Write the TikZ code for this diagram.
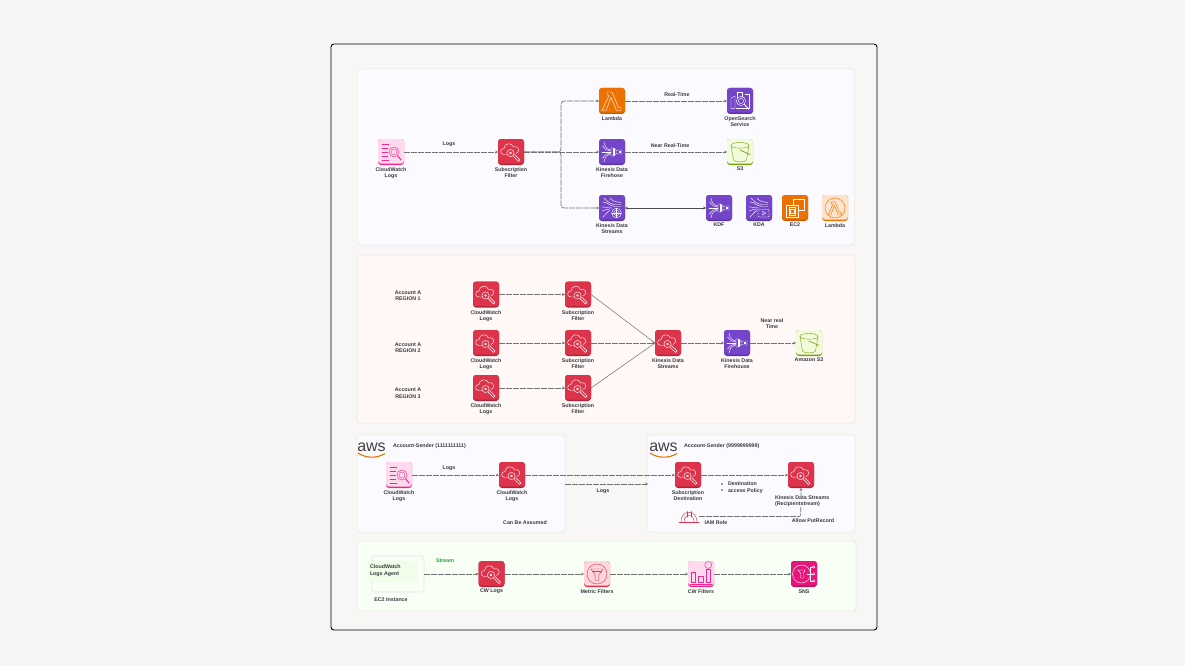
\documentclass[tikz,border=0pt]{standalone}
\usepackage{fontspec}
\setmainfont{Liberation Sans}
\usetikzlibrary{arrows.meta}
\definecolor{pagebg}{HTML}{F6F6F6}
\definecolor{canvas}{HTML}{F8F7F5}
\definecolor{pA}{HTML}{FBFBFF}
\definecolor{pB}{HTML}{FFF8F6}
\definecolor{pC}{HTML}{FBFAFF}
\definecolor{pD}{HTML}{F8FFF5}
\definecolor{pE}{HTML}{F0FDE8}
\definecolor{pline}{HTML}{E5E5EA}
\definecolor{red1}{HTML}{DD344C}
\definecolor{red2}{HTML}{B5233A}
\definecolor{pur1}{HTML}{7545C9}
\definecolor{pur2}{HTML}{5A32A8}
\definecolor{org1}{HTML}{ED7100}
\definecolor{org2}{HTML}{C25C00}
\definecolor{sns1}{HTML}{E7157B}
\definecolor{sns2}{HTML}{B80F60}
\definecolor{pnk1}{HTML}{FFD9EE}
\definecolor{pnk2}{HTML}{F0288C}
\definecolor{grn1}{HTML}{F2FBDC}
\definecolor{grn2}{HTML}{7AA116}
\definecolor{lor1}{HTML}{FDE3CC}
\definecolor{lrd1}{HTML}{FFD6DC}
\definecolor{txt}{HTML}{3A3A40}
\definecolor{strm}{HTML}{2F9A3C}
\tikzset{
  x=1pt,y=-1pt,
  >={Stealth[length=2.8pt,width=2.8pt]},
  panel/.style={draw=pline,line width=.5pt,rounded corners=3pt},
  iconbase/.style={rectangle,rounded corners=3pt,minimum size=26pt,inner sep=0pt,outer sep=0pt},
  glyph/.style={line width=.42pt,line join=round,line cap=round},
  conn/.style={draw=black!55,line width=.7pt,dash pattern=on 6pt off 1pt,->},
  solidconn/.style={draw=black!50,line width=.6pt},
  lbl/.style={inner sep=0pt,outer sep=0pt,align=center,text=txt,yshift=-.7pt,font=\fontsize{5.3}{6.2}\selectfont\bfseries},
}
% glyphs, drawn about the icon centre
\newcommand\gCloud{%
  \draw (-3.5,2.5) -- (-7,2.5) .. controls (-11.5,2.5) and (-11.5,-3.5) .. (-7,-3.5) .. controls (-7,-9) and (1,-10) .. (2.5,-5) .. controls (6,-6.5) and (9,-3) .. (7,0) -- (5,1.5);
  \draw (-.5,1) circle (3.6);
  \draw (-.5,1) circle (1);
  \draw (2,4) -- (7.5,9.5) -- (9,8) -- (3.5,2.5);}
\newcommand\gLog{%
  \draw (-9,-8) -- (-2,-8) (-9,-4) -- (-3,-4) (-9,0) -- (-3,0) (-9,4) -- (-3,4) (-9,8) -- (-2,8);
  \draw (3,0) circle (5);
  \draw[dash pattern=on 1pt off .6pt] (3,0) circle (3);
  \draw[line width=1pt] (6.5,3.5) -- (10,8);}
\newcommand\gLambda{%
  \draw (-5,-9) -- (0,-9) -- (6.5,6.5) -- (9,6.5) -- (9,9.5) -- (4.5,9.5) -- (-1,-3.5) -- (-6,9.5) -- (-10,9.5) -- (-3,-5.5) -- (-4.5,-6) -- (-5,-6) -- cycle;}
\newcommand\gLambdaRing{%
  \draw (0,0) circle (10);
  \begin{scope}[scale=.68]\gLambda\end{scope}}
\newcommand\gFire{%
  \draw (-8,-10) .. controls (-7,-4) and (-5,-3) .. (-1,-2);
  \draw (-9.5,-6) .. controls (-8,-3) and (-5,-1.5) .. (-1,-1);
  \draw (-10,0) -- (-1,0);
  \draw (-9.5,6) .. controls (-8,3) and (-5,1.5) .. (-1,1);
  \draw (-8,10) .. controls (-7,4) and (-5,3) .. (-1,2);
  \draw (-1,-4) -- (1,-4) -- (4,-2.5) -- (4,2.5) -- (1,4) -- (-1,4) -- cycle;
  \draw (1,-4) -- (1,4) (2.5,-3.2) -- (2.5,3.2);
  \draw (4,-1) -- (6,-2) -- (10,-2) -- (10,2) -- (6,2) -- (4,1);
  \fill[white] (7,-.8) rectangle (9,.8);}
\newcommand\gWaves{%
  \draw (-9,-6) .. controls (-4,-6) and (-3,-2) .. (3,-1.5) -- (9,-1.5);
  \draw (-8,-10) .. controls (-4,-6) and (-2,-4) .. (3,-3.5) -- (9,-3.5);
  \draw (-2,-10) .. controls (-1,-8) and (2,-6) .. (9,-5.5);
  \draw (-10,-1) .. controls (-6,-1) and (-4,0) .. (0,0);
  \draw (-10,3) .. controls (-7,2) and (-5,1) .. (-2,1);
  \draw (-9,9) .. controls (-6,6) and (-4,3) .. (-2,2.5);}
\newcommand\gKDS{%
  \gWaves
  \draw (4.5,5) circle (4.8);
  \draw (4.5,5) circle (2.6);
  \draw (-.3,5) -- (9.3,5) (4.5,.2) -- (4.5,9.8);}
\newcommand\gKDA{%
  \gWaves
  \draw[rounded corners=.8pt] (-1,1.5) rectangle (10,9);
  \draw (3.5,3.3) -- (6.8,5.2) -- (3.5,7.1) -- cycle;}
\newcommand\gEC{%
  \draw (-2,-3) -- (-2,-9) -- (9,-9) -- (9,2.5) -- (3,2.5);
  \draw (-9,-3) rectangle (3,9);
  \draw (-4.5,1) rectangle (-.5,5);
  \draw (-5.5,-1) rectangle (.5,7);}
\newcommand\gBucket{%
  \draw (-9,-6.5) .. controls (-9,-10.5) and (9,-10.5) .. (9,-6.5) .. controls (9,-3) and (-9,-3) .. (-9,-6.5);
  \draw (-9,-6.5) -- (-6.5,8) .. controls (-6,10.5) and (6,10.5) .. (6.5,8) -- (9,-6.5);
  \draw[line width=.7pt] (0,-2) -- (10,2.5);}
\newcommand\gSearch{%
  \draw (-9,-3) -- (-5,-5) -- (-5,7) -- (-9,8) -- cycle;
  \draw (-3,-9) -- (2,-9) -- (2,-4) (-3,-9) -- (-3,-3);
  \draw (5,-7) -- (9,-7) -- (9,7) -- (-4,7);
  \draw (1,0) circle (4.6);
  \draw (1,0) circle (2.6);
  \draw[line width=.9pt] (4.5,3.5) -- (8.5,8);}
\newcommand\gFunnel{%
  \draw (0,0) circle (10);
  \draw (-6,-5) -- (6,-5) -- (1.8,1) -- (1.8,6.5) -- (-1.8,6.5) -- (-1.8,1) -- cycle;
  \draw (-4.5,-3) -- (4.5,-3);}
\newcommand\gBars{%
  \draw (-10,-2) rectangle (-5.5,8);
  \draw (-2.5,2) rectangle (2,8);
  \draw (5,-5) rectangle (9.5,8);
  \draw (7.2,-9) circle (3.5);
  \draw (-11,10) -- (11,10);}
\newcommand\gSNS{%
  \draw (-2.5,0) circle (9);
  \draw (-6,-4) -- (1,-4) -- (-.5,-1) -- (-.5,4) -- (-3.5,4) -- (-3.5,-1) -- cycle;
  \draw (6.5,0) -- (3,0) (6.5,0) -- (6.5,-7) -- (8.5,-7) (6.5,0) -- (6.5,7) -- (8.5,7) (6.5,0) -- (8.5,0);
  \draw (9.5,-7) circle (1.2) (9.5,0) circle (1.2) (9.5,7) circle (1.2);}
% name, x, y, fill, dark band, stroke, glyph
\newcommand\icon[7]{%
  \node[iconbase,fill=#5] (#1) at (#2,#3) {};
  \begin{scope}[shift={(#2,#3)}]
    \fill[#4,rounded corners=3pt] (-13,-13) rectangle (13,11.6);
    \begin{scope}[glyph,draw=#6,fill=none]#7\end{scope}
  \end{scope}}
\newcommand\awslogo[2]{%
  \begin{scope}[shift={(#1,#2)}]
    \node[inner sep=0pt,anchor=base,text=black!75,font=\fontsize{16}{16}\selectfont] (#1aws) at (13.5,15) {aws};
    \draw[draw=orange!90!black,line width=1.1pt] (0,17) .. controls (8,22.5) and (19,22.5) .. (27,17.5);
  \end{scope}}
\begin{document}
\begin{tikzpicture}
\useasboundingbox (0,0) rectangle (1185,666);
\fill[pagebg] (0,0) rectangle (1185,666);
\draw[fill=canvas,draw=black,line width=.9pt,rounded corners=3pt] (331,44) rectangle (877,630);
\draw[panel,fill=pA] (357,69) rectangle (854,245);
\draw[panel,fill=pB] (357,255) rectangle (855,423);
\draw[panel,fill=pC] (357,435) rectangle (565,532);
\draw[panel,fill=pC] (647,435) rectangle (855,532);
\draw[panel,fill=pD] (357,541) rectangle (856,611);

% ---- panel 1
\icon{a1}{391}{152}{pnk1}{pnk2}{pnk2}{\gLog}
\icon{a2}{511}{152}{red1}{red2}{white}{\gCloud}
\icon{a3}{612}{101}{org1}{org2}{white}{\gLambda}
\icon{a4}{612}{152}{pur1}{pur2}{white}{\gFire}
\icon{a5}{612}{208}{pur1}{pur2}{white}{\gKDS}
\icon{a6}{740}{101}{pur1}{pur2}{white}{\gSearch}
\icon{a7}{740}{152}{grn1}{grn2}{grn2}{\gBucket}
\icon{a8}{719}{208}{pur1}{pur2}{white}{\gFire}
\icon{a9}{759}{208}{pur1}{pur2}{white}{\gKDA}
\icon{a10}{795}{208}{org1}{org2}{white}{\gEC}
\icon{a11}{835}{208}{lor1}{org1}{org1}{\gLambdaRing}
\coordinate (abr) at (561,152);
\draw[conn] (a1) -- (a2);
\draw[conn] (a2) -- (a4);
\draw[conn,rounded corners=3pt] (a2.east) -- (abr) |- (a3.west);
\draw[conn,rounded corners=3pt] (a2.east) -- (abr) |- (a5.west);
\draw[conn] (a3) -- (a6);
\draw[conn] (a4) -- (a7);
\draw[solidconn,<->,draw=black!70] (a5) -- (a8);
\node[lbl] (t1) at (449,144) {Logs};
\node[lbl] (t2) at (677,94) {Real-Time};
\node[lbl] (t3) at (670,145) {Near Real-Time};
\node[lbl,anchor=north] (t4) at (391,166.5) {CloudWatch\\Logs};
\node[lbl,anchor=north] (t5) at (511,166.5) {Subscription\\Filter};
\node[lbl,anchor=north] (t6) at (612,115.5) {Lambda};
\node[lbl,anchor=north] (t7) at (612,166.5) {Kinesis Data\\Firehose};
\node[lbl,anchor=north] (t8) at (612,222.5) {Kinesis Data\\Streams};
\node[lbl,anchor=north] (t9) at (740,115.5) {OpenSearch\\Service};
\node[lbl,anchor=north] (t10) at (740,166.5) {S3};
\node[lbl,anchor=north] (t11) at (719,222.5) {KDF};
\node[lbl,anchor=north] (t12) at (759,222.5) {KDA};
\node[lbl,anchor=north] (t13) at (795,222.5) {EC2};
\node[lbl,anchor=north] (t14) at (835,222.5) {Lambda};

% ---- panel 2
\icon{b1}{486}{294.5}{red1}{red2}{white}{\gCloud}
\icon{b2}{578}{294.5}{red1}{red2}{white}{\gCloud}
\icon{b3}{486}{343}{red1}{red2}{white}{\gCloud}
\icon{b4}{578}{343}{red1}{red2}{white}{\gCloud}
\icon{b5}{486}{388}{red1}{red2}{white}{\gCloud}
\icon{b6}{578}{388}{red1}{red2}{white}{\gCloud}
\icon{b7}{668}{343}{red1}{red2}{white}{\gCloud}
\icon{b8}{737}{343}{pur1}{pur2}{white}{\gFire}
\icon{b9}{809}{343}{grn1}{grn2}{grn2}{\gBucket}
\draw[conn] (b1) -- (b2);
\draw[conn] (b3) -- (b4);
\draw[conn] (b5) -- (b6);
\draw[solidconn] (b2.east) -- (b7.west);
\draw[conn] (b4) -- (b7);
\draw[solidconn] (b6.east) -- (b7.west);
\draw[conn] (b7) -- (b8);
\draw[conn] (b8) -- (b9);
\node[lbl] (u1) at (408,295) {Account A\\REGION 1};
\node[lbl] (u2) at (408,347) {Account A\\REGION 2};
\node[lbl] (u3) at (408,392.5) {Account A\\REGION 3};
\node[lbl,anchor=north] (u4) at (486,309.5) {CloudWatch\\Logs};
\node[lbl,anchor=north] (u5) at (578,309.5) {Subscription\\Filter};
\node[lbl,anchor=north] (u6) at (486,357.5) {CloudWatch\\Logs};
\node[lbl,anchor=north] (u7) at (578,357.5) {Subscription\\Filter};
\node[lbl,anchor=north] (u8) at (486,402.5) {CloudWatch\\Logs};
\node[lbl,anchor=north] (u9) at (578,402.5) {Subscription\\Filter};
\node[lbl,anchor=north] (u10) at (668,357.5) {Kinesis Data\\Streams};
\node[lbl,anchor=north] (u11) at (737,357.5) {Kinesis Data\\Firehouse};
\node[lbl,anchor=north] (u12) at (809,357.5) {Amazon S3};
\node[lbl] (u13) at (772,323) {Near real\\Time};

% ---- panel 3
\awslogo{358}{436}
\awslogo{650}{436}
\icon{c1}{399}{475}{pnk1}{pnk2}{pnk2}{\gLog}
\icon{c2}{512}{475}{red1}{red2}{white}{\gCloud}
\icon{c3}{688}{475}{red1}{red2}{white}{\gCloud}
\icon{c4}{801}{475}{red1}{red2}{white}{\gCloud}
\coordinate (c5) at (565,484);
\coordinate (c6) at (648,484);
\coordinate (c7) at (699,516.5);
\coordinate (c8) at (800.7,516.5);
\begin{scope}[shift={(689,516)},glyph,draw=red1]
  \draw (-10,6) -- (10,6);
  \draw (-8,6) .. controls (-8,-7) and (8,-7) .. (8,6);
  \draw (-5,6) .. controls (-5,-3) and (5,-3) .. (5,6);
  \draw (-2,-4.5) -- (-2,1) (2,-4.5) -- (2,1);
\end{scope}
\draw[conn] (c1) -- (c2);
\draw[conn] (c2) -- (c3);
\draw[conn] (c3) -- (c4);
\draw[conn] (c5) -- (c6);
\draw[conn,rounded corners=2pt] (c7) -- (c8) -- (c4.south);
\node[lbl,fill=pC,minimum width=50pt,text=txt,anchor=west,align=left] (v1) at (775,500.5) {Kinesis Data Streams\\(Recipientstream)};
\node[lbl,anchor=west] (v2) at (393,445) {Account-Sender (1111111111)};
\node[lbl,anchor=west] (v3) at (684,445) {Account-Sender (9999999999)};
\node[lbl] (v4) at (449,468) {Logs};
\node[lbl,anchor=north] (v5) at (399,489.5) {CloudWatch\\Logs};
\node[lbl,anchor=north] (v6) at (512,489.5) {CloudWatch\\Logs};
\node[lbl] (v7) at (603,491) {Logs};
\node[lbl,anchor=north] (v8) at (688,489.5) {Subscription\\Destination};
\node[lbl,anchor=west,align=left] (v9) at (728,487) {Destination\\access Policy};
\fill[txt] (722,484) circle (.9) (722,490) circle (.9);
\node[lbl] (v10) at (525,522) {Can Be Assumed};
\node[lbl] (v11) at (716,522) {IAM Role};
\node[lbl] (v12) at (813,520) {Allow PutRecord};

% ---- panel 4
\node[draw=pline,line width=.6pt,rounded corners=3pt,minimum width=52pt,minimum height=36pt,inner sep=0pt] (d0) at (398,574) {};
\fill[pE,rounded corners=2pt] (368,561) rectangle (417,582);
\icon{d1}{491.5}{574}{red1}{red2}{white}{\gCloud}
\icon{d2}{597}{574}{lrd1}{red1}{red1}{\gFunnel}
\icon{d3}{701}{574}{pnk1}{pnk2}{pnk2}{\gBars}
\icon{d4}{804}{574}{sns1}{sns2}{white}{\gSNS}
\draw[conn] (d0) -- (d1);
\draw[conn] (d1) -- (d2);
\draw[conn] (d2) -- (d3);
\draw[conn] (d3) -- (d4);
\node[lbl,anchor=west,align=left] (w1) at (370,570) {CloudWatch\\Logs Agent};
\node[lbl,text=strm] (w2) at (445,560) {Stream};
\node[lbl] (w3) at (391,599) {EC2 Instance};
\node[lbl] (w4) at (491.5,591) {CW Logs};
\node[lbl] (w5) at (597,591) {Metric Filters};
\node[lbl] (w6) at (701,591) {CW Filters};
\node[lbl] (w7) at (804,591) {SNS};
\end{tikzpicture}
\end{document}
